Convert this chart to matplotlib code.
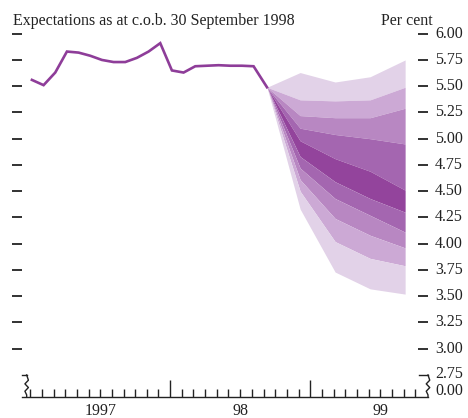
import numpy as np
import matplotlib
matplotlib.use("Agg")
import matplotlib.pyplot as plt
from matplotlib.lines import Line2D
from matplotlib.transforms import offset_copy

plt.rcParams['font.family'] = ['Liberation Serif', 'DejaVu Serif']

# months counted from 1 Jan 1997
line_x = [0.15, 1.15, 2.15, 3.15, 4.15, 5.15, 6.15, 7.15, 8.15, 9.15, 10.15,
          11.15, 12.15, 13.15, 14.15, 15.15, 16.15, 17.15, 18.15, 19.15, 20.3]
line_y = [5.56, 5.51, 5.63, 5.83, 5.82, 5.79, 5.75, 5.73, 5.73, 5.77, 5.83,
          5.91, 5.65, 5.63, 5.69, 5.695, 5.70, 5.695, 5.695, 5.69, 5.49]

fan_x = [20.3, 23.14, 26.14, 29.14, 32.14]
fan_bounds = [
    [5.49, 5.63, 5.54, 5.59, 5.75],
    [5.49, 5.37, 5.36, 5.37, 5.49],
    [5.49, 5.22, 5.20, 5.20, 5.29],
    [5.49, 5.10, 5.04, 5.00, 4.95],
    [5.49, 4.98, 4.81, 4.69, 4.51],
    [5.49, 4.83, 4.59, 4.43, 4.30],
    [5.49, 4.72, 4.43, 4.27, 4.11],
    [5.49, 4.61, 4.24, 4.08, 3.96],
    [5.49, 4.50, 4.02, 3.86, 3.79],
    [5.49, 4.33, 3.73, 3.57, 3.52],
]
band_colors = ["#e2d2e8", "#cca9d5", "#b887c2", "#a466b0", "#93449c",
               "#a466b0", "#b887c2", "#cca9d5", "#e2d2e8"]

y_ticks = [3.00, 3.25, 3.50, 3.75, 4.00, 4.25, 4.50, 4.75, 5.00, 5.25, 5.50, 5.75, 6.00]
year_labels = ["1997", "98", "99"]

ink = '#222222'
fs = 11.5

fig = plt.figure(figsize=(4.68, 4.18), dpi=100)
ax = fig.add_axes([22 / 468, 21 / 418, 406 / 468, 367.5 / 418])
ax.set_xlim(-0.7, 34.1)
ax.set_ylim(2.54, 6.04)

for i in range(len(band_colors)):
    ax.fill_between(fan_x, fan_bounds[i + 1], fan_bounds[i],
                    color=band_colors[i], lw=0)
ax.plot(line_x, line_y, color="#8e3d99", lw=1.9, solid_joinstyle='miter')

for s in ['top', 'left', 'right']:
    ax.spines[s].set_visible(False)
ax.spines['bottom'].set_linewidth(1.0)
ax.spines['bottom'].set_color(ink)

# y ticks on both sides: short dashes
ax.set_yticks(y_ticks)
ax.set_yticklabels([])
ax.tick_params(axis='y', left=True, right=True, length=7, width=1.3,
               direction='out', color=ink, labelright=False, labelleft=False)
for t in ax.yaxis.get_major_ticks():
    t.tick2line.set_marker(0)   # dash drawn inward from the right edge
    t.tick2line.set_markersize(7)
    t.tick1line.set_marker(0)
    t.tick1line.set_markersize(7)

lab_tr = offset_copy(ax.get_yaxis_transform(), fig=fig, x=7, y=0, units='dots')
for v in y_ticks:
    ax.text(1.0, v, f"{v:.2f}", transform=lab_tr,
            ha='left', va='center', fontsize=fs, color=ink)
ax.text(1.0, 2.76, "2.75", transform=lab_tr,
        ha='left', va='center', fontsize=fs, color=ink)
ax.text(1.0, 2.60, "0.00", transform=lab_tr,
        ha='left', va='center', fontsize=fs, color=ink)

# x ticks: months (minor) and years (major)
ax.set_xticks([12, 24])
ax.set_xticks([m for m in range(0, 34) if m not in (12, 24)], minor=True)
ax.set_xticklabels([])
ax.tick_params(axis='x', which='major', direction='in', length=12, width=1.0, color=ink)
ax.tick_params(axis='x', which='minor', direction='in', length=6, width=1.0, color=ink)
for k, lab in enumerate(year_labels):
    ax.text(6 + 12 * k, -0.015, lab, transform=ax.get_xaxis_transform(),
            ha='center', va='top', fontsize=fs, color=ink)

# axis break symbols
def brk(x0, x1, xz):
    ys = [2.75, 2.70, 2.665, 2.63, 2.595, 2.56, 2.54]
    xs = [xz, xz + 0.15, xz - 0.15, xz + 0.15, xz - 0.15, xz, xz]
    ax.add_line(Line2D([x0, x1], [2.75, 2.75], color=ink, lw=1.0, clip_on=False))
    ax.add_line(Line2D(xs, ys, color=ink, lw=1.0, clip_on=False))

brk(-0.7, -0.3, -0.3)
brk(33.3, 34.1, 34.1)

fig.text(13 / 468, 1 - 21 / 418, "Expectations as at c.o.b. 30 September 1998",
         ha='left', va='center', fontsize=fs, color=ink)
fig.text(433 / 468, 1 - 21 / 418, "Per cent", ha='right', va='center',
         fontsize=fs, color=ink)

fig.savefig("out.png", dpi=100)
